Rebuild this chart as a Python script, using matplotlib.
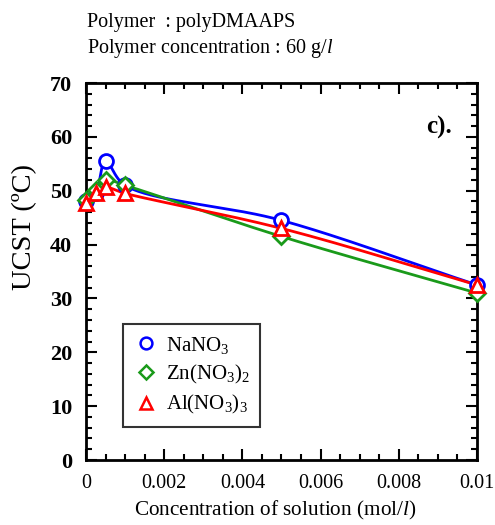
import numpy as np
import matplotlib
matplotlib.use("Agg")
import matplotlib.pyplot as plt
from matplotlib.ticker import MultipleLocator, FixedLocator

plt.rcParams['font.family'] = ['Liberation Serif', 'DejaVu Serif']
plt.rcParams['mathtext.fontset'] = 'custom'
plt.rcParams['mathtext.rm'] = 'Liberation Serif'
plt.rcParams['mathtext.it'] = 'Liberation Serif:italic'
plt.rcParams['mathtext.bf'] = 'Liberation Serif:bold'

# ---- data ----
conc = [0, 0.00025, 0.0005, 0.001, 0.005, 0.01]
ucst_na = [48.0, 49.5, 55.5, 51.0, 44.5, 32.5]
ucst_zn = [48.2, 50.2, 52.0, 51.0, 41.5, 31.0]
ucst_al = [47.7, 49.5, 50.6, 49.5, 43.0, 32.5]
series_labels = ['NaNO$_3$', 'Zn(NO$_3$)$_2$', 'Al(NO$_3$)$_3$']
xtick_labels = ['0', '0.002', '0.004', '0.006', '0.008', '0.01']
ytick_labels = ['0', '10', '20', '30', '40', '50', '60', '70']


def catmull_rom(x, y, sx, sy, n=60, alpha=0.5):
    """Centripetal Catmull-Rom through the data points, computed in scaled space."""
    P = np.column_stack([np.asarray(x, float) * sx, np.asarray(y, float) * sy])
    P = np.vstack([2 * P[0] - P[1], P, 2 * P[-1] - P[-2]])
    out = []
    for i in range(1, len(P) - 2):
        p0, p1, p2, p3 = P[i - 1], P[i], P[i + 1], P[i + 2]
        t0 = 0.0
        t1 = t0 + np.linalg.norm(p1 - p0) ** alpha
        t2 = t1 + np.linalg.norm(p2 - p1) ** alpha
        t3 = t2 + np.linalg.norm(p3 - p2) ** alpha
        t = np.linspace(t1, t2, n)[:, None]
        a1 = (t1 - t) / (t1 - t0) * p0 + (t - t0) / (t1 - t0) * p1
        a2 = (t2 - t) / (t2 - t1) * p1 + (t - t1) / (t2 - t1) * p2
        a3 = (t3 - t) / (t3 - t2) * p2 + (t - t2) / (t3 - t2) * p3
        b1 = (t2 - t) / (t2 - t0) * a1 + (t - t0) / (t2 - t0) * a2
        b2 = (t3 - t) / (t3 - t1) * a2 + (t - t1) / (t3 - t1) * a3
        c = (t2 - t) / (t2 - t1) * b1 + (t - t1) / (t2 - t1) * b2
        out.append(c)
    C = np.vstack(out)
    return C[:, 0] / sx, C[:, 1] / sy


fig = plt.figure(figsize=(4.95, 5.25), dpi=100)
ax = fig.add_axes([0.1737, 0.1238, 0.7899, 0.7181])

sx = 391 / 0.01
sy = 377 / 70.0
styles = [(ucst_na, 'blue', 'o', 10), (ucst_zn, '#1a9a1a', 'D', 8), (ucst_al, 'red', '^', 10)]
handles = []
for (vals, col, mk, ms), lab in zip(styles, series_labels):
    cx, cy = catmull_rom(conc, vals, sx, sy)
    ax.plot(cx, cy, color=col, lw=2, zorder=2)
    ax.plot(conc, vals, ls='none', marker=mk, ms=ms, mfc='white', mec=col, mew=2,
            zorder=3, clip_on=False)
    h, = ax.plot([], [], ls='none', marker=mk, ms=ms * 0.85, mfc='white', mec=col, mew=1.8, label=lab)
    handles.append(h)

ax.set_xlim(0, 0.01)
ax.set_ylim(0, 70)
ax.xaxis.set_major_locator(FixedLocator([0, 0.002, 0.004, 0.006, 0.008, 0.01]))
ax.set_xticklabels(xtick_labels)
ax.xaxis.set_minor_locator(MultipleLocator(0.0005))
ax.yaxis.set_major_locator(FixedLocator(np.arange(0, 71, 10)))
ax.set_yticklabels(ytick_labels, fontweight='bold')
ax.yaxis.set_minor_locator(MultipleLocator(2))
ax.tick_params(which='both', direction='in', top=True, right=True, width=1.5)
ax.tick_params(which='major', length=8, pad=10)
ax.tick_params(axis='x', labelsize=14.5)
ax.tick_params(axis='y', labelsize=16)
ax.tick_params(which='minor', length=4.5)
for s in ax.spines.values():
    s.set_linewidth(2)

ax.set_xlabel('Concentration of solution (mol/$\\mathit{l}$)', fontsize=15.3)
ax.xaxis.set_label_coords(0.485, -0.103)
ax.set_ylabel('UCST (ºC)', fontsize=20.5)
ax.yaxis.set_label_coords(-0.125, 0.618)

leg = ax.legend(handles=handles, loc='upper left', bbox_to_anchor=(0.095, 0.36),
                fontsize=15, frameon=True, fancybox=False, edgecolor='black',
                handletextpad=0.35, borderpad=0.5, labelspacing=0.35, handlelength=1.2,
                borderaxespad=0)
leg.get_frame().set_linewidth(1.5)

ax.text(0.935, 0.865, 'c).', transform=ax.transAxes, fontsize=18, fontweight='bold', ha='right')

fig.text(0.176, 0.948, 'Polymer  : polyDMAAPS', fontsize=14.5, va='baseline')
fig.text(0.176, 0.899, 'Polymer concentration : 60 g/$\\mathit{l}$', fontsize=14.5, va='baseline')

fig.savefig('out.png', dpi=100)
